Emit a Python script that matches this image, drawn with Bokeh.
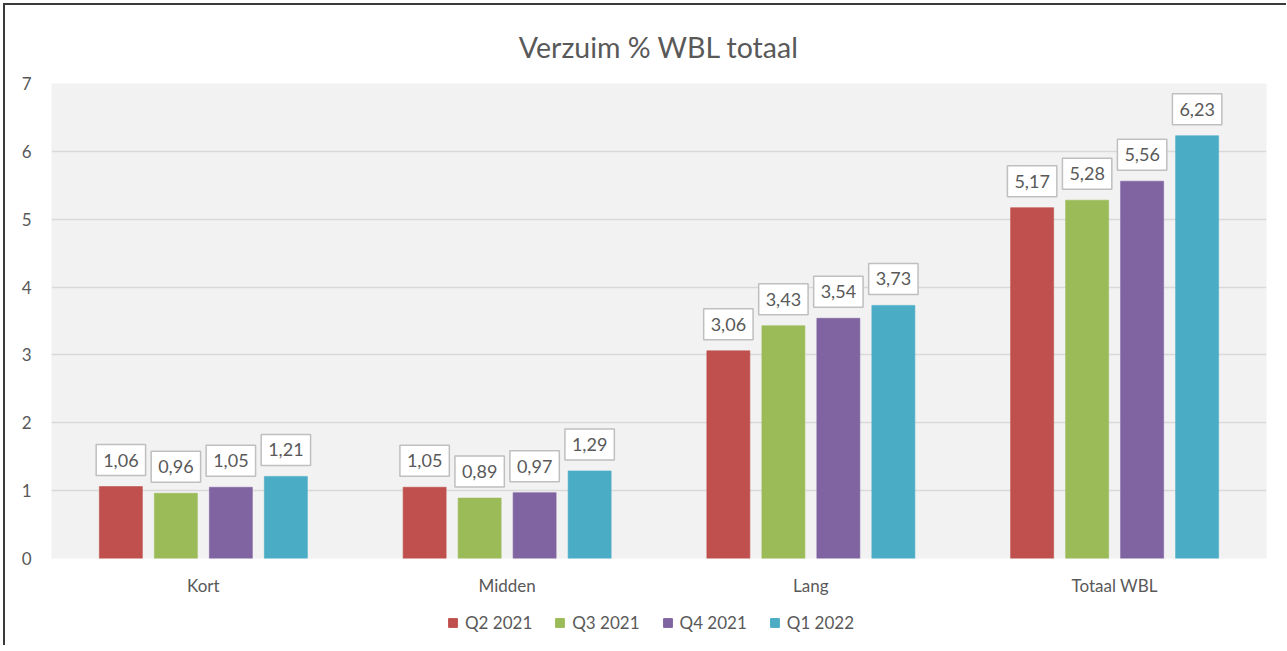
from bokeh.plotting import figure
from bokeh.layouts import column
from bokeh.models import ColumnDataSource, FactorRange, Legend, LegendItem, FixedTicker, Title
from bokeh.core.properties import value
from bokeh.transform import dodge
from bokeh.embed import file_html
from bokeh.resources import INLINE

categories = ["Kort", "Midden", "Lang", "Totaal WBL"]
series = ["Q2 2021", "Q3 2021", "Q4 2021", "Q1 2022"]
q2_2021 = [1.06, 1.05, 3.06, 5.17]
q3_2021 = [0.96, 0.89, 3.43, 5.28]
q4_2021 = [1.05, 0.97, 3.54, 5.56]
q1_2022 = [1.21, 1.29, 3.73, 6.23]
y_ticks = [0, 1, 2, 3, 4, 5, 6, 7]

colors = ["#C0504D", "#9BBB59", "#8064A2", "#4BACC6"]
offsets = [-0.2716, -0.0905, 0.0905, 0.2716]
FONT = "Lato"
TXT = "#595959"
S = 5  # shift caused by the outer frame border/margin

W, H = 1281, 600 - S
p = figure(x_range=FactorRange(*categories, range_padding=0), y_range=(0, 7),
           width=W, height=H, output_backend="svg", toolbar_location=None,
           min_border_left=51 - S, min_border_right=W - (1266 - S),
           min_border_top=83 - S, min_border_bottom=42)

p.background_fill_color = "#F2F2F2"
p.border_fill_color = "white"
p.outline_line_color = None

data = dict(cat=categories)
vals = [q2_2021, q3_2021, q4_2021, q1_2022]
for i, v in enumerate(vals):
    data[f"v{i}"] = v
    data[f"t{i}"] = [f"{x:.2f}".replace(".", ",") for x in v]
src = ColumnDataSource(data)

for i in range(4):
    p.vbar(x=dodge("cat", offsets[i], range=p.x_range), top=f"v{i}", width=0.1416,
           source=src, fill_color=colors[i], line_color=colors[i], line_alpha=0.6)
    p.text(x=dodge("cat", offsets[i], range=p.x_range), y=f"v{i}", text=f"t{i}",
           source=src, text_align="center", text_baseline="bottom", y_offset=-11,
           text_font=value(FONT), text_font_size="18px", text_color=TXT,
           background_fill_color="white", border_line_color="#BFBFBF",
           border_line_width=1.5, padding=(7, 9))

# axes
p.yaxis.ticker = FixedTicker(ticks=y_ticks)
p.yaxis.axis_line_color = None
p.yaxis.major_tick_line_color = None
p.yaxis.minor_tick_line_color = None
p.yaxis.major_label_text_font = FONT
p.yaxis.major_label_text_font_size = "17px"
p.yaxis.major_label_text_color = TXT
p.yaxis.major_label_standoff = 14

p.xaxis.axis_line_color = None
p.xaxis.major_tick_line_color = None
p.xaxis.minor_tick_line_color = None
p.xaxis.major_label_text_font = FONT
p.xaxis.major_label_text_font_size = "17px"
p.xaxis.major_label_text_color = TXT
p.xaxis.major_label_standoff = 10

p.xgrid.grid_line_color = None
p.ygrid.grid_line_color = "#D9D9D9"
p.ygrid.grid_line_width = 1.5

p.title = Title(text="Verzuim % WBL totaal", align="center", text_font=FONT,
                text_font_size="28.5px", text_color=TXT, text_font_style="normal",
                standoff=40)

# legend strip (same data, drawn outside its visible y-range; only the legend shows)
leg = figure(width=W, height=45, output_backend="svg", toolbar_location=None,
             x_range=FactorRange(*categories, range_padding=0), y_range=(100, 101),
             x_axis_location=None, y_axis_location=None,
             min_border_left=0, min_border_top=0, min_border_bottom=0, min_border_right=0)
leg.outline_line_color = None
leg.grid.visible = False
leg.background_fill_color = "white"
leg.border_fill_color = "white"
items = []
for i in range(4):
    r = leg.vbar(x=dodge("cat", offsets[i], range=leg.x_range), top=f"v{i}", width=0.1416,
                 source=src, fill_color=colors[i], line_color=colors[i])
    items.append(LegendItem(label=series[i], renderers=[r]))
legend = Legend(items=items, orientation="horizontal", location=(396, 12),
                label_text_font=FONT, label_text_font_size="17px", label_text_color=TXT,
                glyph_width=11, glyph_height=11, spacing=22, label_standoff=7,
                border_line_color=None, background_fill_alpha=0, margin=0, padding=0)
leg.add_layout(legend)

layout = column(p, leg, spacing=0)
layout.styles = {"border-left": "2px solid #3a3a3a", "border-top": "2px solid #3a3a3a",
                 "border-right": "none", "border-bottom": "none",
                 "margin-left": "3px", "margin-top": "3px"}
open("out.html", "w").write(file_html(layout, INLINE))
